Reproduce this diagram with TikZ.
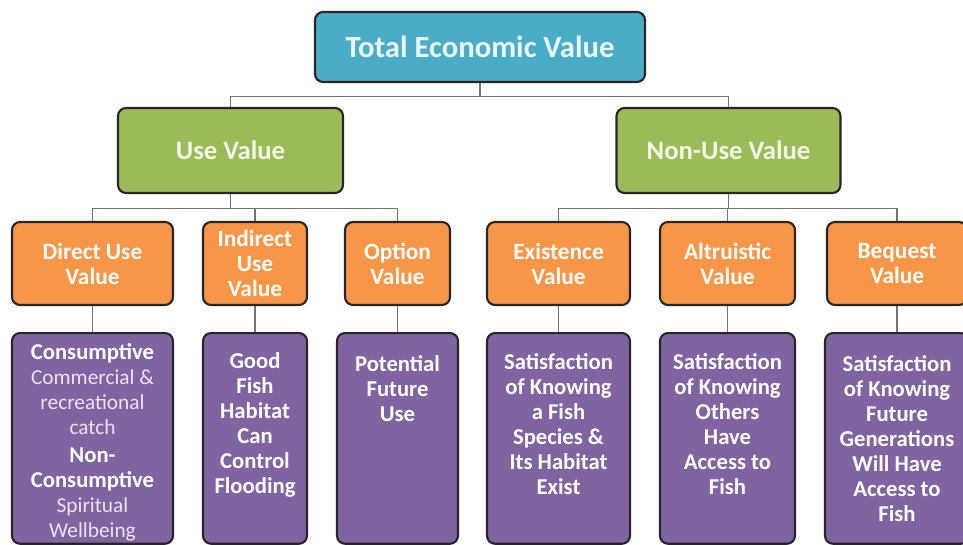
\documentclass[tikz,border=0pt]{standalone}
\usepackage{fontspec}
\setmainfont{Carlito}
\usepackage{tikz}

\definecolor{tevfill}{HTML}{4BACC6}
\definecolor{tevtext}{HTML}{EAF7FA}
\definecolor{midfill}{HTML}{9BBB59}
\definecolor{midtext}{HTML}{F3F8E8}
\definecolor{kindfill}{HTML}{F79646}
\definecolor{whyfill}{HTML}{8064A2}
\definecolor{whysoft}{HTML}{EAE4F2}

\tikzset{
  box/.style={draw=black!85, line width=1.6pt, rounded corners=6pt, align=center, inner sep=2pt},
  topbox/.style={box, fill=tevfill, text=tevtext, font=\fontsize{23}{27}\selectfont\bfseries, minimum width=247.5pt, minimum height=52.5pt},
  midbox/.style={box, fill=midfill, text=midtext, font=\fontsize{20}{24}\selectfont\bfseries, minimum height=63.75pt},
  kindbox/.style={box, fill=kindfill, text=white, font=\fontsize{17.5}{18.75}\selectfont\bfseries, minimum height=62.25pt},
  whybox/.style={box, fill=whyfill, text=white, font=\fontsize{17}{18.75}\selectfont\bfseries, inner sep=0pt, anchor=north},
  conn/.style={draw=black!55, line width=0.8pt},
}

% text of the purple boxes: width, space above, lines
\newcommand{\whytext}[3]{\parbox[t][158pt][t]{#1}{\vspace*{#2}\centering #3}}
\newcommand{\soft}[1]{{\fontsize{16}{18.75}\selectfont\mdseries\color{whysoft}#1}}

\begin{document}
\begin{tikzpicture}[x=0.75pt,y=0.75pt,yscale=-1,xscale=1]
\useasboundingbox (0,0) rectangle (963,545);

% Top
\node [topbox] (tev) at (480,47) {Total Economic Value};

% Use / non-use
\node [midbox, minimum width=168.75pt] (use) at (230.5,150.5) {Use Value};
\node [midbox, minimum width=168pt] (nonuse) at (728.5,150.5) {Non-Use Value};

% Kinds of value
\node [kindbox, minimum width=120.75pt] (direct) at (92.5,263.5) {Direct Use\\Value};
\node [kindbox, minimum width=78pt] (indirect) at (255,263.5) {Indirect\\Use\\Value};
\node [kindbox, minimum width=78.75pt] (option) at (397.5,263.5) {Option\\Value};
\node [kindbox, minimum width=107.25pt] (exist) at (558.5,263.5) {Existence\\Value};
\node [kindbox, minimum width=101.25pt] (altru) at (727.5,263.5) {Altruistic\\Value};
\node [kindbox, minimum width=105pt] (bequest) at (897,263.5) {Bequest\\Value};

% Examples
\node [whybox] (directx) at (92.5,332) {\whytext{120.75pt}{8pt}{Consumptive\\
  \soft{Commercial \&\\recreational\\catch\par}\vspace{2pt}
  Non-\\Consumptive\\
  \soft{Spiritual\\Wellbeing}}};
\node [whybox] (indirectx) at (255,332) {\whytext{78pt}{15pt}{Good\\Fish\\Habitat\\Can\\Control\\Flooding}};
\node [whybox] (optionx) at (397.5,332) {\whytext{90.75pt}{17pt}{Potential\\Future\\Use}};
\node [whybox] (existx) at (558.5,332) {\whytext{107.25pt}{15pt}{Satisfaction\\of Knowing\\a Fish\\Species \&\\Its Habitat\\Exist}};
\node [whybox] (altrux) at (727.5,332) {\whytext{101.25pt}{15pt}{Satisfaction\\of Knowing\\Others\\Have\\Access to\\Fish}};
\node [whybox] (bequestx) at (897,332) {\whytext{108pt}{17pt}{Satisfaction\\of Knowing\\Future\\Generations\\Will Have\\Access to\\Fish}};

% Connectors
\draw [conn] (tev.south) -- ++(0,13) -| (use.north);
\draw [conn] (tev.south) -- ++(0,13) -| (nonuse.north);
\foreach \k in {direct,indirect,option}
  \draw [conn] (use.south) -- ++(0,14) -| (\k.north);
\foreach \k in {exist,altru,bequest}
  \draw [conn] (nonuse.south) -- ++(0,14) -| (\k.north);
\foreach \k in {direct,indirect,option,exist,altru,bequest}
  \draw [conn] (\k.south) -- (\k x.north);

\end{tikzpicture}
\end{document}
